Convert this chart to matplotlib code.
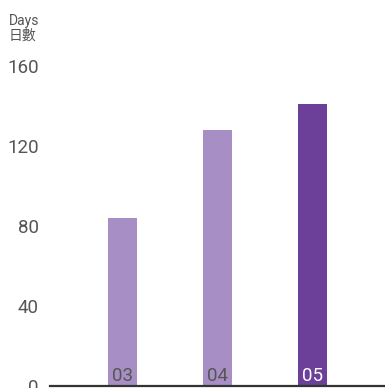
import matplotlib
matplotlib.use("Agg")
import matplotlib.pyplot as plt

plt.rcParams['font.family'] = ['Roboto', 'Noto Sans CJK TC', 'DejaVu Sans']

years = ["03", "04", "05"]
days = [84, 128, 141]
bar_colors = ["#A78FC5", "#A78FC5", "#6C3F98"]
label_colors = ["#555555", "#555555", "#FFFFFF"]
y_ticks = [0, 40, 80, 120, 160]

W, H = 385, 388
fig = plt.figure(figsize=(W / 100, H / 100), dpi=100)

# axes: x from 50px to right edge, y=0 at 386px, y=160 at 66px
y0_px, y160_px = 386, 66
ax = fig.add_axes([50 / W, (H - y0_px) / H, (W - 50) / W, (y0_px - y160_px) / H])
ax.set_ylim(0, 160)
ax.set_xlim(-0.763, 2.763)

x = list(range(len(years)))
ax.bar(x, days, width=0.305, color=bar_colors, zorder=2)

for xi, lab, c in zip(x, years, label_colors):
    ax.text(xi, 0.5, lab, ha='center', va='bottom', fontsize=13.5,
            color=c, zorder=3)

for s in ['top', 'right', 'left']:
    ax.spines[s].set_visible(False)
ax.spines['bottom'].set_color('#333333')
ax.spines['bottom'].set_linewidth(1.6)
ax.set_xticks([])
ax.set_yticks(y_ticks)
ax.tick_params(axis='y', length=0, pad=8, labelsize=13.5, labelcolor='#555555')

fig.text(9 / W, 1 - 21 / H, "Days", fontsize=10, color='#555555',
         ha='left', va='center')
fig.text(9 / W, 1 - 36 / H, "日數", fontsize=10, color='#555555',
         ha='left', va='center', family=['Noto Sans CJK TC', 'DejaVu Sans'])

fig.savefig("out.png", dpi=100)
